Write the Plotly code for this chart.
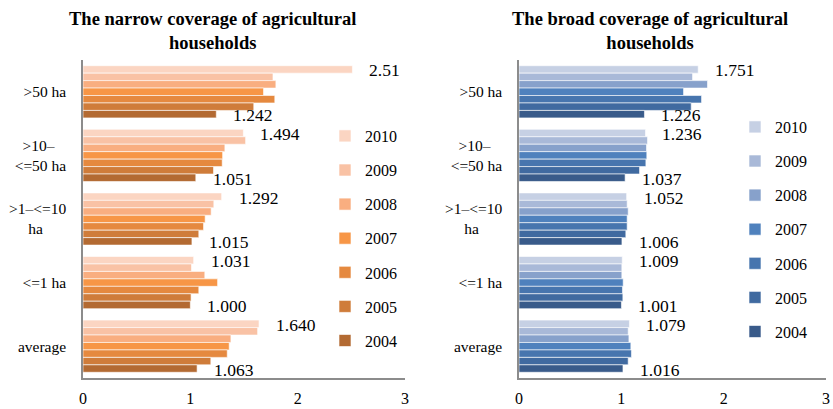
import plotly.graph_objects as go

# Farm-size classes, top to bottom
categories = [">50 ha", ">10–<=50 ha", ">1–<=10 ha", "<=1 ha", "average"]
tick_text = [
    ">50 ha",
    ">10–" + "\u00a0" * 3 + "<br><=50 ha",
    ">1–<=10<br>ha" + "\u00a0" * 6,
    "<=1 ha",
    "average",
]
years = [2010, 2009, 2008, 2007, 2006, 2005, 2004]

# Narrow coverage of agricultural households, one list per year
narrow = {
    2010: [2.51, 1.494, 1.292, 1.031, 1.640],
    2009: [1.770, 1.515, 1.219, 1.011, 1.627],
    2008: [1.797, 1.322, 1.194, 1.135, 1.378],
    2007: [1.682, 1.301, 1.138, 1.254, 1.362],
    2006: [1.787, 1.297, 1.123, 1.079, 1.344],
    2005: [1.591, 1.216, 1.079, 1.007, 1.191],
    2004: [1.242, 1.051, 1.015, 1.000, 1.063],
}
narrow_labels = {
    2010: ["2.51", "1.494", "1.292", "1.031", "1.640"],
    2004: ["1.242", "1.051", "1.015", "1.000", "1.063"],
}

# Broad coverage of agricultural households
broad = {
    2010: [1.751, 1.236, 1.052, 1.009, 1.079],
    2009: [1.696, 1.256, 1.057, 1.005, 1.067],
    2008: [1.842, 1.246, 1.067, 1.005, 1.074],
    2007: [1.608, 1.249, 1.057, 1.018, 1.093],
    2006: [1.784, 1.240, 1.057, 1.011, 1.099],
    2005: [1.683, 1.178, 1.044, 1.015, 1.067],
    2004: [1.226, 1.037, 1.006, 1.001, 1.016],
}
broad_labels = {
    2010: ["1.751", "1.236", "1.052", "1.009", "1.079"],
    2004: ["1.226", "1.037", "1.006", "1.001", "1.016"],
}

orange = ["#FBD5C2", "#F9C2A5", "#F9AE80", "#F79646", "#E5893F", "#CF7C3A", "#B36A32"]
blue = ["#C6D0E4", "#A9B9D8", "#87A1CB", "#4F81BD", "#4775AE", "#406AA0", "#395B8A"]

FONT = "Liberation Serif, Times New Roman, serif"
BARGAP = 0.18
n_years = len(years)
slot = (1 - BARGAP) / n_years  # thickness of one bar in category units

fig = go.Figure()
annotations = []


def add_panel(data, labels, colors, xaxis, yaxis, legend):
    for i, yr in enumerate(years):
        fig.add_trace(go.Bar(
            x=data[yr], y=categories, orientation="h",
            name=str(yr), marker=dict(color=colors[i], line=dict(color="white", width=0.6)),
            xaxis=xaxis, yaxis=yaxis, legend=legend, legendgroup=f"{legend}{yr}",
            hoverinfo="skip",
        ))
        if yr in labels:
            # value labels sit just past the end of the first and last bar in each group
            offset = -(1 - BARGAP) / 2 + slot * (i + 0.5)
            for k, (v, s) in enumerate(zip(data[yr], labels[yr])):
                annotations.append(dict(
                    x=v, y=k + offset, xref=xaxis, yref=yaxis, text=s,
                    xanchor="left", yanchor="middle", xshift=15, yshift=-1,
                    showarrow=False, font=dict(family=FONT, size=17.5, color="#000"),
                ))


add_panel(narrow, narrow_labels, orange, "x", "y", "legend")
add_panel(broad, broad_labels, blue, "x2", "y2", "legend2")

W, H = 833, 409
top, bottom = 60, 378
ydom = [(H - bottom) / H, (H - top) / H]

xcommon = dict(range=[0, 3], tickvals=[0, 1, 2, 3], showgrid=False, zeroline=False,
               showline=True, linecolor="#8c8c8c", linewidth=1.5, ticks="",
               tickfont=dict(family=FONT, size=16, color="#000"), automargin=False,
               ticklabelstandoff=5)
ycommon = dict(autorange=False, range=[4.5, -0.5], showgrid=False, zeroline=False,
               showline=True, linecolor="#8c8c8c", linewidth=1.5, ticks="",
               tickmode="array", tickvals=categories, ticktext=tick_text,
               tickfont=dict(family=FONT, size=15.5, color="#000"), automargin=False,
               ticklabelstandoff=12, type="category", domain=ydom)

legcommon = dict(font=dict(family=FONT, size=16, color="#000"), bgcolor="rgba(0,0,0,0)",
                 traceorder="grouped", tracegroupgap=10.3, xanchor="left", yanchor="top",
                 itemclick=False, itemdoubleclick=False)

for text, cx in [("<b>The narrow coverage of agricultural<br>households</b>", 212),
                 ("<b>The broad coverage of agricultural<br>households</b>", 650)]:
    annotations.append(dict(
        text=text, x=cx / W, y=1 - 31.5 / H, xref="paper", yref="paper",
        xanchor="center", yanchor="middle", showarrow=False,
        font=dict(family=FONT, size=18.5, color="#000")))

fig.update_layout(
    width=W, height=H,
    margin=dict(l=0, r=0, t=0, b=0),
    paper_bgcolor="white", plot_bgcolor="white",
    barmode="group", bargap=BARGAP, bargroupgap=0,
    showlegend=True,
    font=dict(family=FONT, color="#000"),
    xaxis=dict(domain=[83 / W, 405 / W], anchor="y", **xcommon),
    yaxis=dict(anchor="x", **ycommon),
    xaxis2=dict(domain=[519 / W, 826 / W], anchor="y2", **xcommon),
    yaxis2=dict(anchor="x2", **ycommon),
    legend=dict(x=325 / W, y=(H - 119) / H, **legcommon),
    legend2=dict(x=735 / W, y=(H - 110) / H, **legcommon),
    annotations=annotations,
)

fig.write_html("out.html")
